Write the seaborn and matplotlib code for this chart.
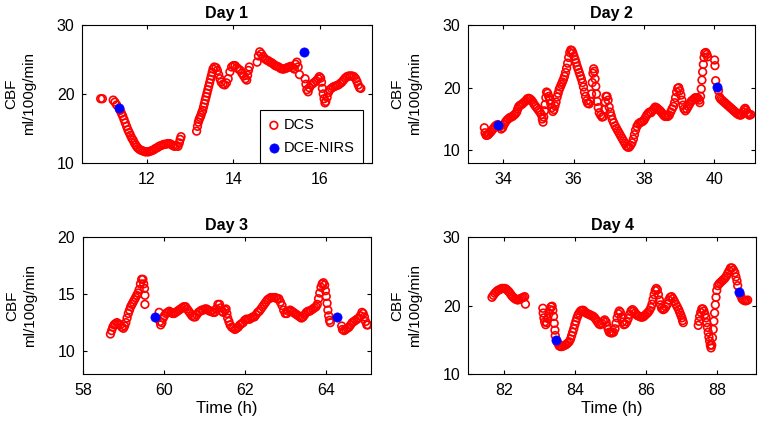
import numpy as np
import pandas as pd
import matplotlib
matplotlib.use("Agg")
import matplotlib.pyplot as plt
import seaborn as sns

# ---- Day 1 ----
day1_t = [10.93, 10.97, 11.22, 11.26, 11.30, 11.38, 11.41, 11.44, 11.47, 11.50, 11.53, 11.56, 11.59, 11.62,
          11.65, 11.68, 11.71, 11.74, 11.77, 11.80, 11.84, 11.88, 11.92, 11.96, 12.00, 12.04, 12.08, 12.12,
          12.16, 12.20, 12.24, 12.28, 12.32, 12.36, 12.40, 12.44, 12.48, 12.52, 12.56, 12.60, 12.64, 12.68,
          12.72, 12.75, 12.77, 12.79,
          13.15, 13.17, 13.19, 13.21, 13.23, 13.25, 13.27, 13.29, 13.31, 13.33, 13.35, 13.37, 13.39, 13.41,
          13.43, 13.45, 13.47, 13.49, 13.51, 13.53, 13.56, 13.60, 13.63, 13.66, 13.69, 13.72, 13.76, 13.80,
          13.84, 13.88, 13.92, 13.96, 14.00, 14.04, 14.08, 14.12, 14.16, 14.20, 14.24, 14.28, 14.31, 14.33,
          14.35, 14.37,
          14.55, 14.58, 14.61, 14.65, 14.69, 14.73, 14.77, 14.81, 14.85, 14.89, 14.93, 14.97, 15.01, 15.05,
          15.09, 15.13, 15.17, 15.21, 15.25, 15.29, 15.33, 15.37, 15.41, 15.44, 15.47, 15.50, 15.53,
          15.66, 15.68, 15.70, 15.73, 15.76, 15.80, 15.84, 15.88, 15.92, 15.96, 15.99, 16.02, 16.04, 16.06,
          16.08, 16.10, 16.12, 16.14, 16.17, 16.20, 16.23, 16.27, 16.31, 16.35, 16.39, 16.43, 16.47, 16.51,
          16.55, 16.59, 16.63, 16.67, 16.71, 16.75, 16.79, 16.83, 16.86, 16.89, 16.92, 16.95]
day1_cbf = [19.3, 19.3, 19.1, 18.8, 18.4, 17.6, 17.2, 16.8, 16.3, 15.8, 15.3, 14.8, 14.4, 14.0,
            13.6, 13.3, 12.9, 12.6, 12.3, 12.1, 11.9, 11.8, 11.7, 11.6, 11.6, 11.6, 11.7, 11.8,
            11.9, 12.1, 12.2, 12.4, 12.5, 12.6, 12.7, 12.7, 12.8, 12.8, 12.7, 12.5, 12.4, 12.5,
            12.4, 12.9, 13.4, 13.8,
            14.6, 15.3, 15.9, 16.3, 16.6, 16.9, 17.3, 17.6, 18.1, 18.6, 19.1, 19.6, 20.1, 20.6,
            21.1, 21.6, 22.1, 22.6, 23.1, 23.6, 23.9, 23.8, 23.4, 22.8, 22.2, 21.7, 21.4, 21.3,
            21.6, 22.2, 23.2, 23.9, 24.1, 24.1, 23.8, 23.6, 23.4, 23.0, 22.6, 22.2, 22.0, 22.7,
            23.4, 23.9,
            24.6, 25.5, 26.1, 25.8, 25.4, 25.1, 24.9, 24.8, 24.6, 24.5, 24.3, 24.1, 24.0, 23.9,
            23.7, 23.6, 23.6, 23.7, 23.8, 23.9, 24.0, 23.8, 23.6, 24.3, 24.6, 23.9, 22.8,
            22.2, 21.4, 20.6, 20.3, 20.9, 21.3, 21.5, 21.7, 21.9, 22.2, 22.5, 22.3, 21.7, 20.8,
            20.0, 19.3, 18.7, 18.9, 19.5, 20.2, 20.6, 20.8, 21.0, 21.1, 21.2, 21.3, 21.5, 21.7,
            22.0, 22.3, 22.5, 22.6, 22.6, 22.6, 22.5, 22.2, 21.8, 21.3, 20.9, 20.8]
day1_nirs_t = [11.35, 15.63]
day1_nirs = [17.9, 26.1]

# ---- Day 2 ----
day2_t = [33.46, 33.48, 33.51, 33.54, 33.57, 33.60, 33.64, 33.68, 33.72, 33.76, 33.80, 33.84, 33.90, 33.94,
          33.98, 34.02, 34.06, 34.10, 34.14, 34.18, 34.22, 34.26, 34.30, 34.34, 34.38, 34.41, 34.44, 34.48,
          34.52, 34.56, 34.60, 34.64, 34.68, 34.72, 34.76, 34.80, 34.84, 34.88, 34.92, 34.96, 35.00, 35.04,
          35.08, 35.11, 35.13, 35.15, 35.17, 35.19, 35.21, 35.23, 35.26, 35.29, 35.32, 35.35, 35.38, 35.41,
          35.44, 35.47, 35.50, 35.53, 35.56, 35.59, 35.62, 35.65, 35.68, 35.71, 35.74, 35.77, 35.80, 35.83,
          35.86, 35.89, 35.92, 35.95, 35.98, 36.01, 36.04, 36.07, 36.10, 36.13, 36.16, 36.19, 36.22, 36.25,
          36.28, 36.31, 36.34, 36.37, 36.40, 36.44, 36.48, 36.51, 36.53, 36.55, 36.57, 36.59, 36.61, 36.63,
          36.65, 36.67, 36.70, 36.73, 36.77, 36.81, 36.85, 36.88, 36.90, 36.92, 36.95, 36.98, 37.01, 37.04,
          37.07, 37.10, 37.14, 37.18, 37.22, 37.26, 37.30, 37.34, 37.38, 37.42, 37.46, 37.50, 37.54, 37.58,
          37.62, 37.66, 37.70, 37.73, 37.76, 37.80, 37.84, 37.88, 37.92, 37.96, 38.00, 38.04, 38.08, 38.12,
          38.16, 38.20, 38.24, 38.28, 38.32, 38.36, 38.40, 38.44, 38.48, 38.52, 38.56, 38.60, 38.64, 38.68,
          38.72, 38.76, 38.80, 38.84, 38.87, 38.90, 38.93, 38.96, 38.99, 39.02, 39.05, 39.08, 39.11, 39.14,
          39.18, 39.22, 39.26, 39.30, 39.34, 39.38, 39.42, 39.46, 39.50, 39.54, 39.57, 39.59, 39.61, 39.63,
          39.65, 39.67, 39.69, 39.71, 39.73, 39.76, 39.79, 39.81,
          40.01, 40.02, 40.04, 40.12, 40.15, 40.18, 40.22, 40.26, 40.30, 40.34, 40.38, 40.42, 40.46, 40.50,
          40.54, 40.58, 40.62, 40.66, 40.70, 40.74, 40.78, 40.82, 40.85, 40.88, 40.91, 40.94, 40.97, 41.00,
          41.04]
day2_cbf = [13.6, 12.8, 12.4, 12.4, 12.5, 12.7, 12.9, 13.2, 13.5, 13.8, 14.0, 14.1, 13.8, 13.4,
            13.6, 14.1, 14.5, 14.8, 15.0, 15.2, 15.3, 15.4, 15.6, 15.8, 16.1, 16.6, 17.0, 17.2,
            17.3, 17.5, 17.7, 17.9, 18.2, 18.3, 18.2, 18.0, 17.7, 17.3, 17.0, 16.7, 16.4, 16.1,
            15.7, 15.0, 14.5, 15.3, 16.3, 17.3, 18.4, 19.3, 19.1, 18.6, 18.0, 17.4, 16.8, 16.2,
            16.5, 17.1, 17.7, 18.5, 19.1, 19.7, 20.1, 20.5, 20.9, 21.3, 21.8, 22.4, 23.1, 23.9,
            24.8, 25.6, 26.0, 25.9, 25.5, 25.0, 24.5, 24.0, 23.4, 22.9, 22.4, 21.9, 21.4, 20.8,
            20.1, 19.3, 18.6, 17.9, 17.5, 17.4, 17.8, 19.0, 20.8, 22.3, 23.0, 22.6, 21.4, 20.2,
            19.0, 17.8, 16.8, 16.0, 15.6, 15.3, 15.4, 16.5, 17.7, 18.6, 18.6, 18.0, 16.9, 16.1,
            15.5, 14.9, 14.4, 13.9, 13.5, 13.1, 12.7, 12.3, 11.9, 11.5, 11.1, 10.7, 10.5, 10.5,
            10.8, 11.2, 11.8, 12.5, 13.2, 13.8, 14.2, 14.4, 14.5, 14.6, 14.8, 15.2, 15.6, 15.9,
            16.1, 16.0, 16.3, 16.6, 16.9, 16.8, 16.6, 16.4, 16.2, 15.9, 15.6, 15.4, 15.5, 15.4,
            15.6, 16.1, 16.6, 17.0, 17.6, 18.4, 19.3, 19.9, 20.0, 19.5, 18.8, 18.0, 17.2, 16.6,
            16.3, 16.6, 17.0, 17.4, 17.8, 18.0, 18.2, 18.4, 18.4, 18.3, 18.0, 17.6, 18.6, 19.8,
            21.2, 22.5, 23.7, 24.8, 25.5, 25.6, 25.3, 24.9,
            24.4, 23.5, 21.1, 19.5, 18.5, 18.2, 18.0, 17.8, 17.6, 17.4, 17.2, 17.0, 16.8, 16.6,
            16.4, 16.2, 16.0, 15.8, 15.7, 15.6, 15.7, 16.1, 16.5, 16.7, 16.4, 16.0, 15.8, 15.6,
            15.7]
day2_nirs_t = [33.86, 40.08]
day2_nirs = [14.0, 20.1]

# ---- Day 3 ----
day3_t = [58.68, 58.71, 58.74, 58.77, 58.80, 58.84, 58.88, 58.92, 58.96, 59.00, 59.03, 59.06, 59.09, 59.12,
          59.15, 59.18, 59.21, 59.24, 59.27, 59.30, 59.33, 59.36, 59.39, 59.42, 59.45, 59.48, 59.50, 59.52,
          59.53, 59.53,
          59.88, 59.90, 59.92, 59.95, 59.98, 60.01, 60.05, 60.09, 60.13, 60.17, 60.21, 60.25, 60.29, 60.33,
          60.37, 60.41, 60.45, 60.49, 60.53, 60.57, 60.61, 60.65, 60.69, 60.73, 60.77, 60.81, 60.85, 60.89,
          60.93, 60.97, 61.01, 61.05, 61.09, 61.13, 61.17, 61.21, 61.25, 61.29, 61.33, 61.37, 61.40, 61.43,
          61.46, 61.50, 61.53, 61.55, 61.57, 61.60, 61.63, 61.67, 61.71, 61.75, 61.79, 61.83, 61.87, 61.91,
          61.95, 61.99, 62.03, 62.07, 62.11, 62.15, 62.19, 62.23, 62.27, 62.31, 62.35, 62.39, 62.43, 62.47,
          62.51, 62.55, 62.59, 62.63, 62.67, 62.71, 62.75, 62.79, 62.83, 62.87, 62.91, 62.95, 62.99, 63.03,
          63.07, 63.11, 63.15, 63.19, 63.23, 63.27, 63.31, 63.35, 63.39, 63.43, 63.47, 63.51, 63.55, 63.59,
          63.63, 63.67, 63.71, 63.75, 63.78, 63.81, 63.84, 63.87, 63.90, 63.93, 63.96, 63.98, 64.00, 64.02,
          64.04, 64.06, 64.08, 64.10,
          64.38, 64.40, 64.44, 64.48, 64.52, 64.56, 64.60, 64.64, 64.68, 64.72, 64.76, 64.80, 64.84, 64.88,
          64.91, 64.94, 64.97, 65.00, 65.03]
day3_cbf = [11.5, 11.8, 12.1, 12.3, 12.4, 12.5, 12.4, 12.3, 12.1, 12.0, 12.2, 12.5, 12.9, 13.3,
            13.6, 13.9, 14.1, 14.3, 14.5, 14.7, 14.9, 15.1, 15.4, 15.9, 16.3, 16.3, 15.9, 15.5,
            14.9, 14.1,
            13.4, 12.6, 12.3, 12.5, 12.9, 13.1, 13.3, 13.4, 13.5, 13.4, 13.3, 13.3, 13.4, 13.5,
            13.6, 13.7, 13.8, 13.9, 13.9, 13.7, 13.5, 13.3, 13.1, 13.0, 13.0, 13.2, 13.4, 13.5,
            13.6, 13.6, 13.7, 13.7, 13.6, 13.5, 13.5, 13.4, 13.4, 13.7, 14.1, 14.1, 13.8, 13.5,
            13.4, 13.6, 13.7, 13.3, 12.9, 12.6, 12.3, 12.1, 12.0, 11.9, 12.0, 12.1, 12.3, 12.4,
            12.5, 12.7, 12.8, 12.8, 12.8, 12.9, 13.0, 13.0, 13.2, 13.4, 13.5, 13.7, 13.9, 14.1,
            14.3, 14.5, 14.6, 14.7, 14.7, 14.7, 14.7, 14.6, 14.6, 14.3, 14.0, 13.6, 13.3, 13.3,
            13.5, 13.6, 13.5, 13.4, 13.3, 13.2, 13.1, 13.0, 12.9, 13.0, 13.2, 13.4, 13.5, 13.5,
            13.6, 13.7, 13.8, 13.9, 14.1, 14.6, 15.1, 15.6, 15.9, 16.0, 15.8, 15.3, 14.8, 14.2,
            13.6, 13.1, 12.7, 12.5,
            12.2, 11.9, 11.8, 11.9, 12.0, 12.1, 12.3, 12.5, 12.6, 12.7, 12.8, 12.9, 13.1, 13.4,
            13.3, 13.0, 12.6, 12.3, 12.3]
day3_nirs_t = [59.78, 64.27]
day3_nirs = [13.0, 13.0]

# ---- Day 4 ----
day4_t = [81.67, 81.71, 81.75, 81.79, 81.83, 81.87, 81.91, 81.95, 81.99, 82.03, 82.07, 82.11, 82.15, 82.19,
          82.23, 82.27, 82.31, 82.35, 82.39, 82.43, 82.47, 82.51, 82.55, 82.59, 82.61,
          83.10, 83.11, 83.13, 83.15, 83.18, 83.21, 83.24, 83.27, 83.30, 83.33, 83.36, 83.38, 83.40, 83.42,
          83.44, 83.45, 83.52, 83.56, 83.60, 83.64, 83.68, 83.72, 83.76, 83.80, 83.84, 83.88, 83.91, 83.94,
          83.97, 84.00, 84.03, 84.06, 84.09, 84.12, 84.16, 84.20, 84.24, 84.28, 84.32, 84.36, 84.40, 84.44,
          84.48, 84.52, 84.56, 84.60, 84.64, 84.68, 84.72, 84.76, 84.80, 84.84, 84.88, 84.91, 84.94, 84.97,
          85.01, 85.05, 85.09, 85.13, 85.16, 85.19, 85.22, 85.25, 85.28, 85.31, 85.34, 85.38, 85.42, 85.46,
          85.50, 85.54, 85.58, 85.62, 85.66, 85.70, 85.74, 85.78, 85.82, 85.86, 85.90, 85.94, 85.98, 86.02,
          86.06, 86.10, 86.14, 86.17, 86.20, 86.23, 86.26, 86.29, 86.32, 86.35, 86.38, 86.41, 86.44, 86.48,
          86.52, 86.56, 86.60, 86.64, 86.68, 86.72, 86.76, 86.80, 86.84, 86.88, 86.92, 86.95, 86.98, 87.01,
          87.03, 87.05,
          87.47, 87.49, 87.51, 87.54, 87.57, 87.60, 87.63, 87.66, 87.69, 87.71, 87.73, 87.75, 87.77, 87.79,
          87.81, 87.83, 87.85, 87.87, 87.89, 87.91, 87.93, 87.95, 87.97, 87.99, 88.02, 88.06, 88.10, 88.14,
          88.18, 88.22, 88.26, 88.30, 88.34, 88.38, 88.42, 88.46, 88.50, 88.53, 88.56, 88.58, 88.66, 88.70,
          88.74, 88.78, 88.82, 88.86]
day4_cbf = [21.2, 21.5, 21.8, 22.0, 22.2, 22.3, 22.4, 22.5, 22.5, 22.5, 22.4, 22.2, 22.0, 21.7,
            21.4, 21.2, 21.0, 20.9, 20.8, 20.9, 21.0, 21.1, 21.2, 21.3, 20.2,
            19.6, 18.9, 18.2, 17.6, 17.2, 17.5, 18.1, 18.8, 19.4, 19.8, 19.9, 19.3, 18.4, 17.4,
            16.4, 15.6, 14.5, 14.1, 14.0, 14.0, 14.1, 14.2, 14.3, 14.5, 14.7, 15.1, 15.6, 16.1,
            16.6, 17.2, 17.7, 18.2, 18.6, 18.9, 19.2, 19.3, 19.3, 19.1, 18.9, 18.8, 18.7, 18.6,
            18.5, 18.4, 18.2, 17.9, 17.6, 17.3, 17.2, 17.4, 17.7, 17.9, 17.6, 17.0, 16.5, 16.1,
            16.0, 16.0, 16.1, 16.6, 17.4, 18.2, 18.8, 19.2, 19.0, 18.3, 17.6, 17.2, 17.3, 17.6,
            18.1, 18.7, 19.2, 19.4, 19.2, 18.9, 18.6, 18.5, 18.4, 18.3, 18.3, 18.4, 18.6, 18.8,
            19.0, 19.3, 19.7, 20.2, 20.9, 21.6, 22.2, 22.5, 22.3, 21.6, 20.8, 20.1, 19.6, 19.4,
            19.5, 19.8, 20.2, 20.8, 21.2, 21.3, 21.0, 20.6, 20.2, 19.8, 19.4, 19.0, 18.6, 18.2,
            17.8, 17.5,
            17.1, 17.7, 18.4, 19.0, 19.5, 19.5, 19.2, 18.7, 18.2, 17.5, 16.8, 16.1, 15.4, 14.8,
            14.2, 13.8, 14.2, 15.3, 16.5, 17.7, 18.9, 20.1, 21.2, 22.2, 22.9, 23.2, 23.4, 23.6,
            23.8, 24.0, 24.3, 24.7, 25.1, 25.5, 25.5, 25.2, 24.8, 24.2, 23.6, 22.9, 21.5, 21.0,
            20.8, 20.7, 20.7, 20.8]
day4_nirs_t = [83.47, 88.62]
day4_nirs = [15.0, 22.0]

titles = ["Day 1", "Day 2", "Day 3", "Day 4"]
xlims = [(10.5, 17.2), (33.0, 41.15), (58.0, 65.1), (81.0, 89.1)]
ylims = [(10, 30), (8, 30), (8, 20), (10, 30)]
xticks = [[12, 14, 16], [34, 36, 38, 40], [58, 60, 62, 64], [82, 84, 86, 88]]
yticks = [[10, 20, 30], [10, 20, 30], [10, 15, 20], [10, 20, 30]]

sns.set_style("ticks")
plt.rcParams["font.family"] = ["Liberation Sans", "DejaVu Sans"]
plt.rcParams["text.color"] = "black"
plt.rcParams["axes.labelcolor"] = "black"
plt.rcParams["xtick.color"] = "black"
plt.rcParams["ytick.color"] = "black"

fig = plt.figure(figsize=(7.6, 4.22), dpi=100)
boxes = [[0.108, 0.614, 0.381, 0.327], [0.616, 0.614, 0.377, 0.327],
         [0.109, 0.114, 0.379, 0.324], [0.616, 0.114, 0.379, 0.324]]

dcs = [(day1_t, day1_cbf), (day2_t, day2_cbf), (day3_t, day3_cbf), (day4_t, day4_cbf)]
nirs = [(day1_nirs_t, day1_nirs), (day2_nirs_t, day2_nirs), (day3_nirs_t, day3_nirs), (day4_nirs_t, day4_nirs)]

for i in range(4):
    ax = fig.add_axes(boxes[i])
    sns.scatterplot(x=dcs[i][0], y=dcs[i][1], ax=ax, marker="o", s=30, facecolors="none",
                    edgecolor="#ff0000", linewidth=1.2, label="DCS", zorder=2)
    sns.scatterplot(x=nirs[i][0], y=nirs[i][1], ax=ax, marker="o", s=44, color="#0000ff",
                    edgecolor="#0000ff", linewidth=0.5, label="DCE-NIRS", zorder=3)
    ax.set_xlim(xlims[i])
    ax.set_ylim(ylims[i])
    ax.set_xticks(xticks[i])
    ax.set_yticks(yticks[i])
    ax.set_title(titles[i], fontsize=11.5, fontweight="bold", pad=5, color="black")
    ax.set_ylabel("CBF\nml/100g/min", fontsize=11, linespacing=1.3, labelpad=15)
    if i >= 2:
        ax.set_xlabel("Time (h)", fontsize=12, labelpad=2)
    ax.tick_params(direction="in", top=True, right=True, labelsize=11.5, length=3, width=0.8,
                   colors="black")
    ax.tick_params(axis="x", pad=6.5)
    ax.tick_params(axis="y", pad=5.5)
    for sp in ax.spines.values():
        sp.set_visible(True)
        sp.set_color("black")
        sp.set_linewidth(0.8)
    if i == 0:
        leg = ax.legend(loc="lower right", bbox_to_anchor=(0.97, 0.0), borderaxespad=0,
                        frameon=True, fancybox=False, edgecolor="black", framealpha=1,
                        fontsize=10.5, handletextpad=0.3, borderpad=0.55, labelspacing=0.6,
                        handlelength=0.8)
        leg.get_frame().set_linewidth(0.8)
    else:
        ax.get_legend().remove()

fig.savefig("out.png", dpi=100)
